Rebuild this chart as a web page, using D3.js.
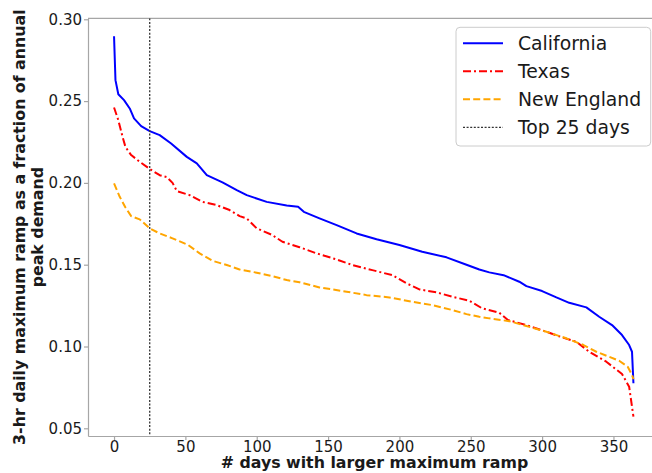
<!DOCTYPE html>
<html>
<head>
<meta charset="utf-8">
<script src="https://cdn.jsdelivr.net/npm/d3@7"></script>
<style>
  html, body { margin: 0; padding: 0; background: #fff; }
  svg { display: block; font-family: "DejaVu Sans", sans-serif; }
</style>
</head>
<body>
<svg id="chart" width="652" height="473"></svg>
<script>
// Daily 3-hr maximum ramp, sorted from largest to smallest, per region
const caDays = [0, 1, 3, 7, 11, 14, 19, 25, 32, 40, 51, 58, 65, 76, 86, 93, 107, 121, 129, 133, 144, 156, 170, 184, 200, 216, 233, 247, 256, 263, 273, 284, 289, 300, 310, 319, 331, 340, 349, 356, 361, 363, 364];
const caValues = [0.2896, 0.2628, 0.2542, 0.2506, 0.2455, 0.2394, 0.2347, 0.2316, 0.2292, 0.2241, 0.2159, 0.2119, 0.2047, 0.2003, 0.1956, 0.1925, 0.1884, 0.1862, 0.1854, 0.1823, 0.1783, 0.1742, 0.1691, 0.1656, 0.1620, 0.1579, 0.1545, 0.1500, 0.1471, 0.1453, 0.1436, 0.1396, 0.1369, 0.1339, 0.1300, 0.1267, 0.1239, 0.1182, 0.1131, 0.1070, 0.1009, 0.0968, 0.0775];

const txDays = [0, 3, 6, 8, 12, 18, 25, 32, 37, 41, 44, 53, 62, 72, 81, 88, 93, 100, 111, 118, 130, 142, 156, 167, 181, 195, 205, 214, 226, 237, 249, 258, 270, 276, 289, 303, 314, 324, 333, 345, 356, 361, 364];
const txValues = [0.2461, 0.2383, 0.2281, 0.2220, 0.2170, 0.2129, 0.2085, 0.2047, 0.2035, 0.2000, 0.1950, 0.1925, 0.1884, 0.1864, 0.1834, 0.1797, 0.1783, 0.1722, 0.1681, 0.1640, 0.1607, 0.1569, 0.1532, 0.1498, 0.1467, 0.1436, 0.1386, 0.1349, 0.1331, 0.1304, 0.1280, 0.1233, 0.1206, 0.1162, 0.1131, 0.1090, 0.1056, 0.1029, 0.0968, 0.0907, 0.0832, 0.0754, 0.0571];

const neDays = [0, 4, 8, 12, 18, 25, 32, 41, 52, 60, 69, 79, 88, 100, 111, 121, 130, 144, 163, 177, 193, 209, 223, 237, 247, 256, 263, 277, 289, 303, 317, 329, 338, 347, 354, 360, 363, 364];
const neValues = [0.1997, 0.1915, 0.1850, 0.1797, 0.1777, 0.1722, 0.1691, 0.1661, 0.1620, 0.1569, 0.1524, 0.1498, 0.1471, 0.1451, 0.1430, 0.1406, 0.1393, 0.1361, 0.1335, 0.1314, 0.1300, 0.1273, 0.1253, 0.1223, 0.1198, 0.1182, 0.1172, 0.1155, 0.1125, 0.1090, 0.1050, 0.1009, 0.0968, 0.0937, 0.0913, 0.0876, 0.0826, 0.0800];

const topDaysCutoff = 25;

const xTicks = [0, 50, 100, 150, 200, 250, 300, 350];
const yTicks = [0.05, 0.10, 0.15, 0.20, 0.25, 0.30];

const seriesNames = ["California", "Texas", "New England", "Top 25 days"];

const series = [
  { name: seriesNames[0], days: caDays, values: caValues, color: "#0000ff", width: 2, dash: null },
  { name: seriesNames[1], days: txDays, values: txValues, color: "#ff0000", width: 2, dash: "8,3,2,3" },
  { name: seriesNames[2], days: neDays, values: neValues, color: "#ffa500", width: 2, dash: "7,3.2" }
];

const svg = d3.select("#chart");
const plotLeft = 88, plotRight = 660.9, plotTop = 18.3, plotBottom = 436;
const spineColor = "#a6a6a6";
const textColor = "#1a1a1a";

const x = d3.scaleLinear().domain([-18.25, 383.25]).range([plotLeft, plotRight]);
const y = d3.scaleLinear().domain([0.0453, 0.3006]).range([plotBottom, plotTop]);

svg.append("defs").append("clipPath").attr("id", "plot-clip")
  .append("rect").attr("x", plotLeft).attr("y", plotTop)
  .attr("width", plotRight - plotLeft).attr("height", plotBottom - plotTop);

// axes
const xAxis = svg.append("g")
  .attr("transform", `translate(0,${plotBottom})`)
  .call(d3.axisBottom(x).tickValues(xTicks).tickFormat(d3.format("d"))
    .tickSize(4).tickSizeOuter(0).tickPadding(1));
const yAxis = svg.append("g")
  .attr("transform", `translate(${plotLeft},0)`)
  .call(d3.axisLeft(y).tickValues(yTicks).tickFormat(d3.format(".2f"))
    .tickSize(4).tickSizeOuter(0).tickPadding(2));

[xAxis, yAxis].forEach(g => {
  g.select(".domain").attr("stroke", spineColor).attr("stroke-width", 1.2);
  g.selectAll(".tick line").attr("stroke", spineColor).attr("stroke-width", 1.2);
  g.selectAll(".tick text").attr("fill", textColor)
    .style("font-family", "DejaVu Sans").style("font-size", "15px");
});

// top and right spines
svg.append("line").attr("x1", plotLeft).attr("x2", plotRight).attr("y1", plotTop).attr("y2", plotTop)
  .attr("stroke", spineColor).attr("stroke-width", 1.2);
svg.append("line").attr("x1", plotRight).attr("x2", plotRight).attr("y1", plotTop).attr("y2", plotBottom)
  .attr("stroke", spineColor).attr("stroke-width", 1.2);

// series
const plot = svg.append("g").attr("clip-path", "url(#plot-clip)");
const line = d3.line().x(d => x(d[0])).y(d => y(d[1]));

series.forEach(s => {
  const pts = s.days.map((d, i) => [d, s.values[i]]);
  plot.append("path")
    .datum(pts)
    .attr("d", line)
    .attr("fill", "none")
    .attr("stroke", s.color)
    .attr("stroke-width", s.width)
    .attr("stroke-linejoin", "round")
    .attr("stroke-dasharray", s.dash);
});

// cutoff for the top days
plot.append("line")
  .attr("x1", x(topDaysCutoff)).attr("x2", x(topDaysCutoff))
  .attr("y1", plotTop).attr("y2", plotBottom)
  .attr("stroke", "#333").attr("stroke-width", 1.3)
  .attr("stroke-dasharray", "2,1.6");

// axis labels
svg.append("text")
  .attr("x", (plotLeft + plotRight) / 2).attr("y", 468)
  .attr("text-anchor", "middle")
  .attr("fill", textColor)
  .style("font-weight", "bold").style("font-size", "15.8px")
  .text("# days with larger maximum ramp");

const yLabel = svg.append("text")
  .attr("transform", `translate(0,${(plotTop + plotBottom) / 2}) rotate(-90)`)
  .attr("text-anchor", "middle")
  .attr("fill", textColor)
  .style("font-weight", "bold").style("font-size", "15.8px");
yLabel.append("tspan").attr("x", 0).attr("y", 25)
  .text("3-hr daily maximum ramp as a fraction of annual");
yLabel.append("tspan").attr("x", 0).attr("y", 43)
  .text("peak demand");

// legend
const legend = svg.append("g");
legend.append("rect")
  .attr("x", 456).attr("y", 27.3).attr("width", 194.7).attr("height", 118.7)
  .attr("rx", 4).attr("ry", 4)
  .attr("fill", "#fff").attr("fill-opacity", 0.8)
  .attr("stroke", "#cccccc").attr("stroke-width", 1);

const legendItems = [
  ...series.map(s => ({ name: s.name, color: s.color, width: s.width, dash: s.dash })),
  { name: seriesNames[3], color: "#333", width: 1.3, dash: "2,1.6" }
];
legendItems.forEach((it, i) => {
  const cy = 43.3 + i * 28;
  legend.append("line")
    .attr("x1", 463).attr("x2", 503).attr("y1", cy).attr("y2", cy)
    .attr("stroke", it.color).attr("stroke-width", it.width)
    .attr("stroke-dasharray", it.dash);
  legend.append("text")
    .attr("x", 518).attr("y", cy).attr("dy", "0.36em")
    .attr("fill", textColor)
    .style("font-size", "18.8px")
    .text(it.name);
});
</script>
</body>
</html>
